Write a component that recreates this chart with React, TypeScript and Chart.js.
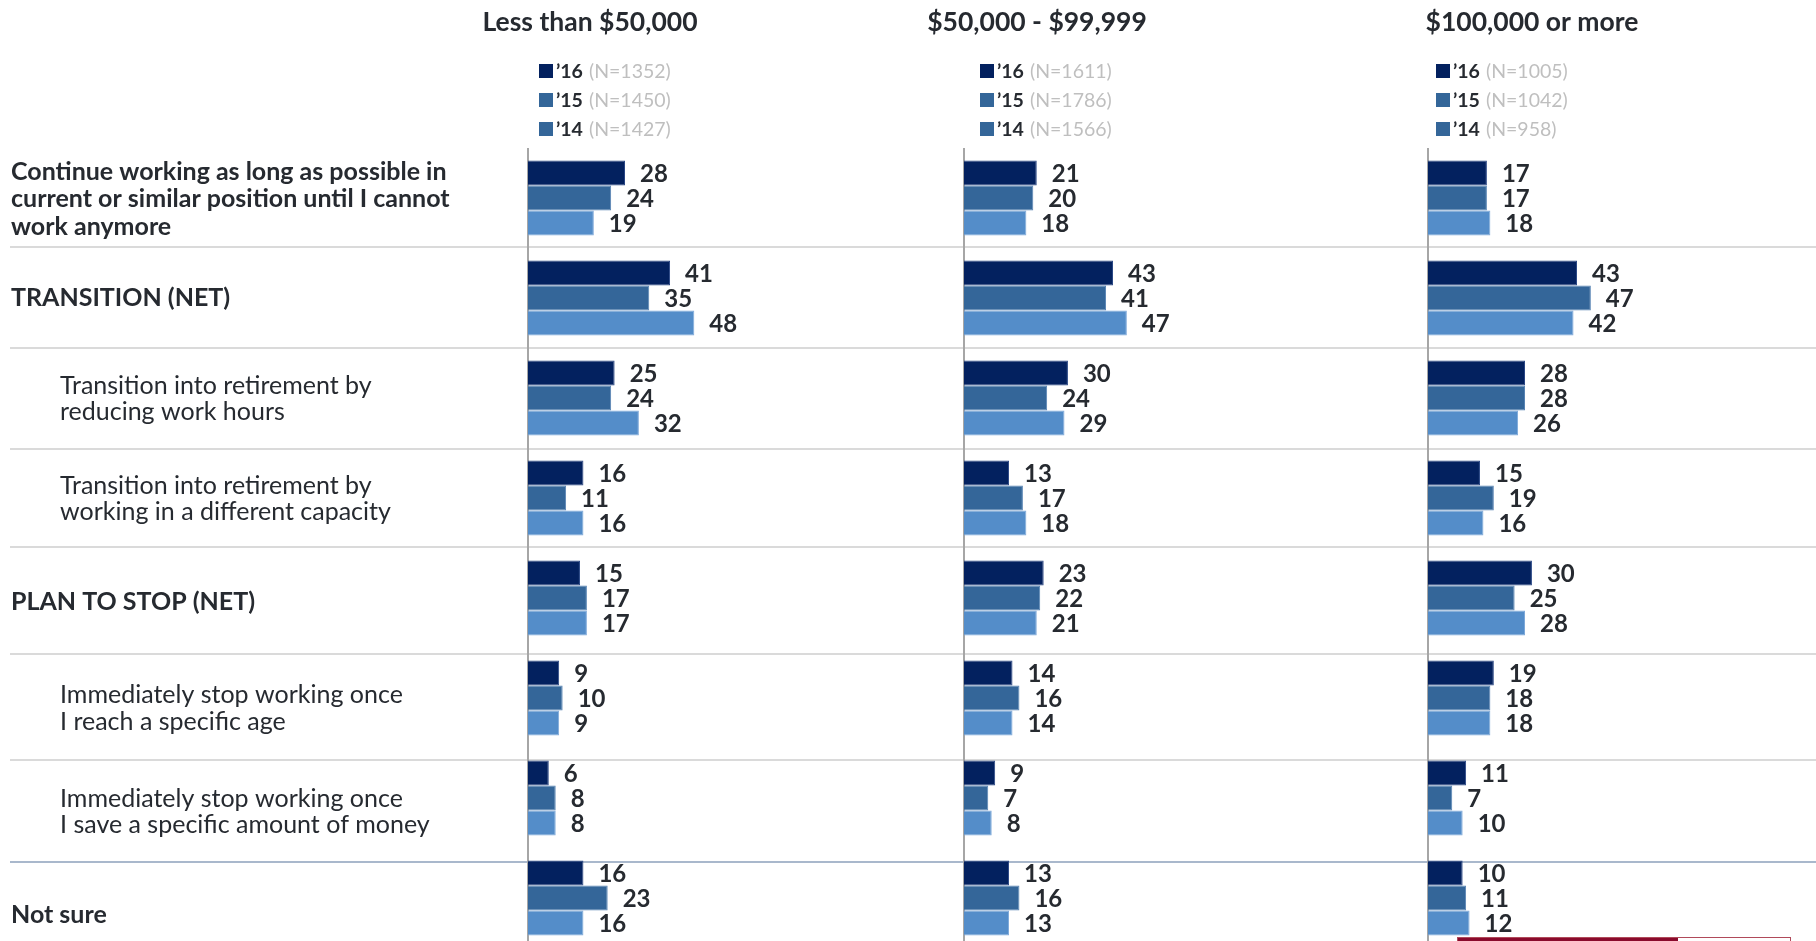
import React, { useEffect, useRef } from "react";
import { Chart, registerables } from "chart.js";

Chart.register(...registerables);

// ---------------- data ----------------
const categories: string[][] = [
  ["Continue working as long as possible in", "current or similar position until I cannot", "work anymore"],
  ["TRANSITION (NET)"],
  ["Transition into retirement by", "reducing work hours"],
  ["Transition into retirement by", "working in a different capacity"],
  ["PLAN TO STOP (NET)"],
  ["Immediately stop working once", "I reach a specific age"],
  ["Immediately stop working once", "I save a specific amount of money"],
  ["Not sure"],
];

const panelTitles = ["Less than $50,000", "$50,000 - $99,999", "$100,000 or more"];
const yearLabels = ["\u201916", "\u201915", "\u201914"];

const lt50N = [1352, 1450, 1427];
const midN = [1611, 1786, 1566];
const hiN = [1005, 1042, 958];

const lt50_16 = [28, 41, 25, 16, 15, 9, 6, 16];
const lt50_15 = [24, 35, 24, 11, 17, 10, 8, 23];
const lt50_14 = [19, 48, 32, 16, 17, 9, 8, 16];

const mid_16 = [21, 43, 30, 13, 23, 14, 9, 13];
const mid_15 = [20, 41, 24, 17, 22, 16, 7, 16];
const mid_14 = [18, 47, 29, 18, 21, 14, 8, 13];

const hi_16 = [17, 43, 28, 15, 30, 19, 11, 10];
const hi_15 = [17, 47, 28, 19, 25, 18, 7, 11];
const hi_14 = [18, 42, 26, 16, 28, 18, 10, 12];

const panelSeries = [
  [lt50_16, lt50_15, lt50_14],
  [mid_16, mid_15, mid_14],
  [hi_16, hi_15, hi_14],
];
const panelN = [lt50N, midN, hiN];

// ---------------- style / layout ----------------
const FONT = "Lato, 'Open Sans', sans-serif";
const TEXT = "#262a30";
const barColors = ["#03215F", "#346699", "#548DC9"];
const barBorders = ["#2A4785", "#5783B3", "#7EA9DA"];
const legendColors = ["#03215F", "#346699", "#346699"];

const panelWeights = [436, 464, 388];
const pxPerUnit = 3.465;
const titleCenters = [590, 1037, 1532];
const legendLeft = [539, 980, 1436];
const legendTops = [64, 93, 122];
const labelShift = [0.5, -1, 0, 0, 3, 9.5, 13, 16];
const labelIndent = [false, false, true, true, false, true, true, false];
const separators = [0.49, 1.5, 2.51, 3.49, 4.56, 5.62, 6.64];
const CAP = 0.7165;

const decorPlugin = {
  id: "decor",
  beforeDatasetsDraw(chart: any) {
    const ctx = chart.ctx as CanvasRenderingContext2D;
    const y = chart.scales.y;
    const area = chart.chartArea;
    ctx.save();
    separators.forEach((v, i) => {
      const py = Math.round(y.getPixelForValue(v));
      ctx.strokeStyle = i === separators.length - 1 ? "#A9B8CC" : "#DADADA";
      ctx.lineWidth = 2;
      ctx.beginPath();
      ctx.moveTo(10, py);
      ctx.lineTo(chart.width, py);
      ctx.stroke();
    });
    ["x1", "x2", "x3"].forEach((id) => {
      const s = chart.scales[id];
      const px = Math.round(s.getPixelForValue(0));
      ctx.strokeStyle = "#A6A6A6";
      ctx.lineWidth = 2;
      ctx.beginPath();
      ctx.moveTo(px, area.top);
      ctx.lineTo(px, area.bottom);
      ctx.stroke();
    });
    ctx.restore();
  },
  afterDatasetsDraw(chart: any) {
    const ctx = chart.ctx as CanvasRenderingContext2D;
    ctx.save();
    const fs = 24;
    ctx.font = `bold ${fs}px ${FONT}`;
    ctx.fillStyle = TEXT;
    ctx.textAlign = "left";
    ctx.textBaseline = "alphabetic";
    chart.data.datasets.forEach((ds: any, di: number) => {
      const meta = chart.getDatasetMeta(di);
      meta.data.forEach((bar: any, i: number) => {
        const { x, y } = bar.getProps(["x", "y"], true);
        ctx.fillText(String(ds.data[i]), x + 15, y + (CAP * fs) / 2);
      });
    });
    ctx.restore();
  },
  afterDraw(chart: any) {
    const ctx = chart.ctx as CanvasRenderingContext2D;
    const y = chart.scales.y;
    ctx.save();
    ctx.fillStyle = TEXT;
    ctx.textAlign = "left";
    ctx.textBaseline = "alphabetic";
    // category labels
    categories.forEach((lines, i) => {
      const indent = labelIndent[i];
      const fs = 25;
      const lh = indent ? 26.7 : 27.7;
      ctx.font = `${indent ? "normal" : "bold"} ${fs}px ${FONT}`;
      const center = y.getPixelForValue(i) + labelShift[i];
      const first = center + (CAP * fs) / 2 - ((lines.length - 1) * lh) / 2;
      lines.forEach((t, k) => {
        ctx.fillText(t, indent ? 60 : 11, first + k * lh);
      });
    });
    // titles
    ctx.font = `bold 26.5px ${FONT}`;
    ctx.textAlign = "center";
    panelTitles.forEach((t, p) => ctx.fillText(t, titleCenters[p], 31));
    // legends
    ctx.textAlign = "left";
    panelN.forEach((ns, p) => {
      yearLabels.forEach((yl, r) => {
        const x0 = legendLeft[p];
        const top = legendTops[r];
        ctx.fillStyle = legendColors[r];
        ctx.fillRect(x0, top, 14, 14);
        ctx.font = `bold 19.5px ${FONT}`;
        ctx.fillStyle = TEXT;
        ctx.fillText(yl, x0 + 17, top + 14);
        const w = ctx.measureText(yl).width;
        ctx.font = `normal 19.5px ${FONT}`;
        ctx.fillStyle = "#BFBFBF";
        ctx.fillText(`(N=${ns[r]})`, x0 + 17 + w + 6, top + 14);
      });
    });
    ctx.restore();
  },
};

export default function App() {
  const ref = useRef<HTMLCanvasElement | null>(null);
  useEffect(() => {
    if (!ref.current) return;
    const datasets: any[] = [];
    panelSeries.forEach((series, p) => {
      series.forEach((vals, r) => {
        datasets.push({
          label: `${panelTitles[p]} ${yearLabels[r]}`,
          data: vals,
          xAxisID: `x${p + 1}`,
          yAxisID: "y",
          stack: yearLabels[r],
          backgroundColor: barColors[r],
          borderColor: barBorders[r],
          borderWidth: 1,
          borderSkipped: "start",
          categoryPercentage: 0.75,
          barPercentage: 1,
        });
      });
    });
    const xScale = (p: number) => ({
      axis: "x",
      type: "linear",
      position: "bottom",
      display: false,
      stacked: false,
      stack: "panels",
      stackWeight: panelWeights[p],
      min: 0,
      max: panelWeights[p] / pxPerUnit,
    });
    const chart = new Chart(ref.current, {
      type: "bar",
      data: { labels: categories.map((c) => c.join(" ")), datasets },
      options: {
        indexAxis: "y",
        animation: false,
        responsive: false,
        events: [],
        layout: { padding: { left: 528, top: 148, right: 0, bottom: 12 } },
        plugins: { legend: { display: false }, tooltip: { enabled: false } },
        scales: {
          x1: xScale(0),
          x2: xScale(1),
          x3: xScale(2),
          y: { type: "category", display: false, offset: true },
        } as any,
      } as any,
      plugins: [decorPlugin],
    });
    return () => chart.destroy();
  }, []);
  return (
    <div
      style={{
        position: "fixed",
        left: 0,
        top: 0,
        width: 1816,
        height: 941,
        overflow: "hidden",
        background: "#fff",
      }}
    >
      <canvas ref={ref} width={1816} height={960} style={{ display: "block", width: 1816, height: 960 }} />
      <div
        style={{
          position: "absolute",
          left: 1457,
          top: 937,
          width: 334,
          height: 12,
          border: "1px solid #B04A5A",
          background: "#fff",
          boxSizing: "border-box",
        }}
      >
        <div style={{ width: 220, height: "100%", background: "#8A0A2C" }} />
      </div>
    </div>
  );
}
